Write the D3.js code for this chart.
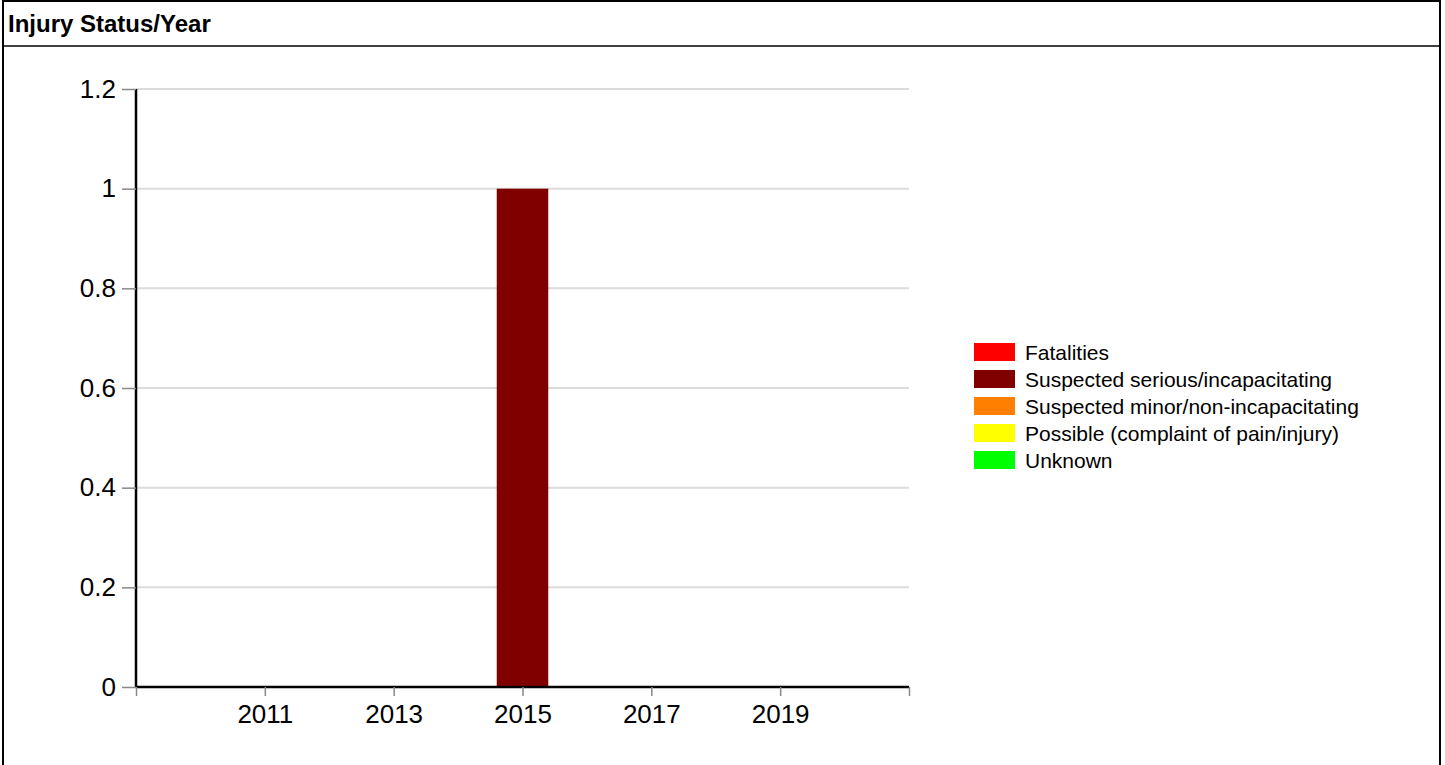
<!DOCTYPE html>
<meta charset="utf-8">
<html>
<head>
    <title>Injury Status/Year</title>
    <script type="text/javascript" src="https://cdn.jsdelivr.net/npm/d3@7"></script>
    <style type="text/css">
        html, body {
            padding: 0px;
            margin: 0px;
            background: #fff;
            font-family: "Liberation Sans", Arial, sans-serif;
        }
    </style>
</head>
<body>
    <svg id="svg"></svg>
    <script type="text/javascript">
        // categories and series
        var years = [2010, 2011, 2012, 2013, 2014, 2015, 2016, 2017, 2018, 2019, 2020]
        var categories = ["Fatalities", "Suspected serious/incapacitating", "Suspected minor/non-incapacitating",
                          "Possible (complaint of pain/injury)", "Unknown"]
        var colors = ["#ff0000", "#800000", "#ff8000", "#ffff00", "#00ff00"]
        var fatalities = [0, 0, 0, 0, 0, 0, 0, 0, 0, 0, 0]
        var serious    = [0, 0, 0, 0, 0, 1, 0, 0, 0, 0, 0]
        var minor      = [0, 0, 0, 0, 0, 0, 0, 0, 0, 0, 0]
        var possible   = [0, 0, 0, 0, 0, 0, 0, 0, 0, 0, 0]
        var unknown    = [0, 0, 0, 0, 0, 0, 0, 0, 0, 0, 0]
        var yTicks = [0, 0.2, 0.4, 0.6, 0.8, 1, 1.2]
        var xTicks = [2009, 2011, 2013, 2015, 2017, 2019, 2021]

        var width = 1445, height = 765
        var svg = d3.select('svg').attr('width', width).attr('height', height)

        // frame + title
        svg.append('rect').attr('x', 3).attr('y', 1).attr('width', 1437).attr('height', 780)
           .attr('fill', 'none').attr('stroke', '#000').attr('stroke-width', 2)
        svg.append('line').attr('x1', 3).attr('x2', 1440).attr('y1', 46).attr('y2', 46)
           .attr('stroke', '#000').attr('stroke-width', 1.5)
        svg.append('text').attr('x', 8).attr('y', 32)
           .attr('font-size', 24).attr('font-weight', 'bold').text('Injury Status/Year')

        var x = d3.scaleLinear().domain([2009, 2021]).range([136, 909])
        var y = d3.scaleLinear().domain([0, 1.2]).range([687, 89])

        // gridlines
        svg.append('g').selectAll('line').data(yTicks.slice(1)).enter().append('line')
           .attr('x1', 136).attr('x2', 909)
           .attr('y1', function (d) { return y(d) }).attr('y2', function (d) { return y(d) })
           .attr('stroke', '#dcdcdc').attr('stroke-width', 2)

        // stacked bars
        var table = years.map(function (yr, i) {
            return { year: yr, a: fatalities[i], b: serious[i], c: minor[i], d: possible[i], e: unknown[i] }
        })
        var keys = ['a', 'b', 'c', 'd', 'e']
        var stack = d3.stack().keys(keys)(table)
        svg.append('g').selectAll('g').data(stack).enter().append('g')
           .attr('fill', function (s, i) { return colors[i] })
           .selectAll('rect').data(function (s) { return s }).enter().append('rect')
           .attr('x', function (d) { return x(d.data.year - 0.4) })
           .attr('width', function (d) { return x(d.data.year + 0.4) - x(d.data.year - 0.4) })
           .attr('y', function (d) { return y(d[1]) })
           .attr('height', function (d) { return y(d[0]) - y(d[1]) })

        // axes
        var yAxis = svg.append('g').attr('transform', 'translate(136,0)')
           .call(d3.axisLeft(y).tickValues(yTicks).tickSize(14).tickPadding(6).tickFormat(d3.format('')))
        var xAxis = svg.append('g').attr('transform', 'translate(0,687)')
           .call(d3.axisBottom(x).tickValues(xTicks).tickSize(9).tickPadding(9)
                 .tickFormat(function (d) { return (d === 2009 || d === 2021) ? '' : d }))
        ;[yAxis, xAxis].forEach(function (ax) {
            ax.select('.domain').attr('stroke', '#000').attr('stroke-width', 2.5)
            ax.selectAll('.tick line').attr('stroke', '#888').attr('stroke-width', 1.5)
            ax.selectAll('.tick text').attr('font-size', 26).attr('fill', '#000')
              .attr('font-family', '"Liberation Sans", Arial, sans-serif')
        })
        yAxis.select('.domain').attr('d', 'M0,89V687')
        xAxis.select('.domain').attr('d', 'M136,0H909')

        // legend
        var legend = svg.append('g').selectAll('g').data(categories).enter().append('g')
           .attr('transform', function (d, i) { return 'translate(974,' + (343 + i * 27) + ')' })
        legend.append('rect').attr('width', 41).attr('height', 18)
           .attr('fill', function (d, i) { return colors[i] })
        legend.append('text').attr('x', 51).attr('y', 17).attr('font-size', 21).text(function (d) { return d })
    </script>
</body>
</html>
